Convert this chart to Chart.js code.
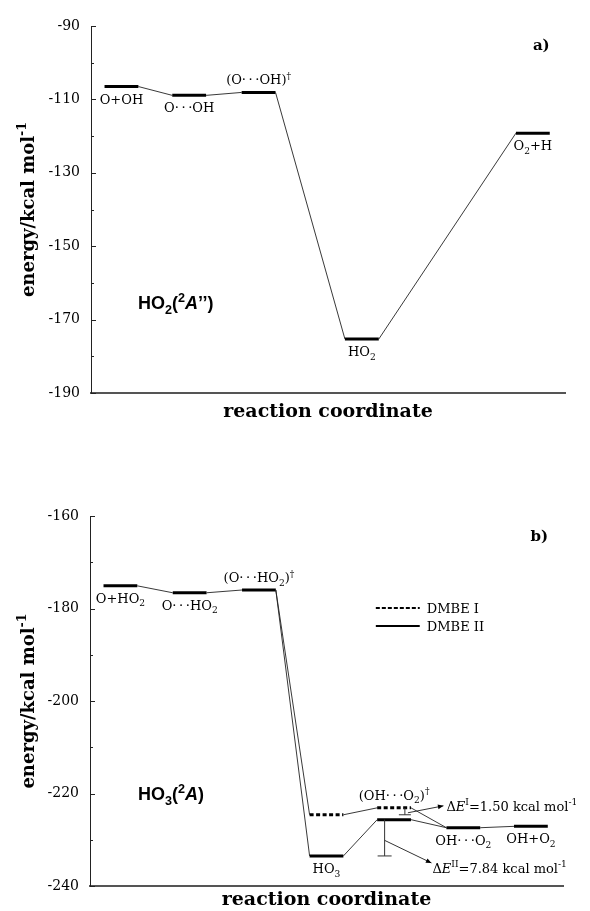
<!DOCTYPE html>
<html>
<head>
<meta charset="utf-8">
<script src="https://cdn.jsdelivr.net/npm/chart.js@4/dist/chart.umd.min.js"></script>
<style>
  html, body { margin: 0; padding: 0; background: #fff; }
  canvas { position: absolute; left: 0; }
  #ho2 { top: 0; }
  #ho3 { top: 455px; }
</style>
</head>
<body>
<canvas id="ho2" width="590" height="455"></canvas>
<canvas id="ho3" width="590" height="456"></canvas>
<script>
const SERIF = '"DejaVu Serif", serif';
const SANS = '"Liberation Sans", Arial, sans-serif';
const HALF = 0.5; // half width of an energy level along the reaction coordinate
const DOTS = '\u00B7\u2009\u00B7\u2009\u00B7';

// a) HO2 surface
const ho2States = ['O+OH', 'O' + DOTS + 'OH', '(O' + DOTS + 'OH)^{\u2020}', 'HO_{2}', 'O_{2}+H'];
const ho2Coord = [0.9, 2.9, 4.95, 8.0, 13.05];
const ho2Energy = [-106.5, -108.9, -108.1, -175.3, -119.2];
const ho2Side = ['below', 'below', 'above', 'below', 'below'];
const ho2Ticks = [-90, -110, -130, -150, -170, -190];

// b) HO3 surface, DMBE II levels (the barrier comes from the minimum plus deltaE2)
const ho3States = ['O+HO_{2}', 'O' + DOTS + 'HO_{2}', '(O' + DOTS + 'HO_{2})^{\u2020}', 'HO_{3}',
  '(OH' + DOTS + 'O_{2})^{\u2020}', 'OH' + DOTS + 'O_{2}', 'OH+O_{2}'];
const ho3Coord = [0.9, 2.95, 5.0, 7.0, 9.0, 11.05, 13.05];
const ho3Energy = [-175.1, -176.6, -176.0, -233.5, null, -227.4, -227.1];
const ho3Side = ['below', 'below', 'above', 'below', 'above', 'below', 'below'];
const ho3Ticks = [-160, -180, -200, -220, -240];
const dmbe1Min = -224.6; // HO3 minimum on DMBE I
const deltaE1 = 1.50;    // kcal/mol, DMBE I barrier
const deltaE2 = 7.84;    // kcal/mol, DMBE II barrier

const dmbe2Energy = ho3Energy.map((e, i) => (i === 4 ? ho3Energy[3] + deltaE2 : e));
const dmbe1TS = dmbe1Min + deltaE1;

// split "_{..}" subscripts, "^{..}" superscripts and "*{..}" italics
function richParts(str) {
  const parts = [];
  const re = /([_^*])\{([^}]*)\}/g;
  let last = 0, m;
  while ((m = re.exec(str))) {
    if (m.index > last) parts.push({ t: str.slice(last, m.index), k: '' });
    parts.push({ t: m[2], k: m[1] });
    last = re.lastIndex;
  }
  if (last < str.length) parts.push({ t: str.slice(last), k: '' });
  return parts;
}

function drawRich(ctx, str, x, y, opt) {
  const parts = richParts(str);
  const fontFor = p => {
    const small = p.k === '_' || p.k === '^';
    const size = small ? opt.size * 0.7 : opt.size;
    return (p.k === '*' ? 'italic ' : '') + (opt.weight || 'normal') + ' ' + size + 'px ' + opt.family;
  };
  let w = 0;
  parts.forEach(p => { ctx.font = fontFor(p); p.w = ctx.measureText(p.t).width; w += p.w; });
  let cx = opt.align === 'left' ? x : x - w / 2;
  ctx.textAlign = 'left';
  ctx.textBaseline = 'alphabetic';
  parts.forEach(p => {
    ctx.font = fontFor(p);
    const dy = p.k === '_' ? opt.size * 0.28 : p.k === '^' ? -opt.size * 0.42 : 0;
    ctx.fillText(p.t, cx, y + dy);
    cx += p.w;
  });
  return w;
}

function levelPoints(coord, energy) {
  const pts = [];
  coord.forEach((c, i) => {
    pts.push({ x: c - HALF, y: energy[i] }, { x: c + HALF, y: energy[i] });
  });
  return pts;
}

function arrow(ctx, x1, y1, x2, y2) {
  const ang = Math.atan2(y2 - y1, x2 - x1);
  ctx.beginPath();
  ctx.moveTo(x1, y1);
  ctx.lineTo(x2, y2);
  ctx.stroke();
  ctx.beginPath();
  ctx.moveTo(x2, y2);
  ctx.lineTo(x2 - 6 * Math.cos(ang - 0.4), y2 - 6 * Math.sin(ang - 0.4));
  ctx.lineTo(x2 - 6 * Math.cos(ang + 0.4), y2 - 6 * Math.sin(ang + 0.4));
  ctx.closePath();
  ctx.fill();
}

// labels, inward ticks, axis title and tags for one panel
function makeOverlay(spec) {
  return {
    id: 'overlay',
    afterDraw(chart) {
      const { ctx, chartArea: a, scales: { x, y } } = chart;
      ctx.save();
      ctx.strokeStyle = '#222';
      ctx.lineWidth = 1;
      for (let v = y.min; v <= y.max; v += 10) {
        const py = Math.round(y.getPixelForValue(v)) + 0.5;
        const len = spec.ticks.includes(v) ? 5 : 3;
        ctx.beginPath();
        ctx.moveTo(a.left, py);
        ctx.lineTo(a.left + len, py);
        ctx.stroke();
      }
      ctx.fillStyle = '#000';
      spec.states.forEach((s, i) => {
        const px = x.getPixelForValue(spec.coord[i]);
        const py = y.getPixelForValue(spec.labelAt[i]) + (spec.side[i] === 'above' ? -8 : 17);
        drawRich(ctx, s, px, py, { size: 13, family: SERIF });
      });
      drawRich(ctx, spec.molecule, x.getPixelForValue(spec.moleculeAt[0]), y.getPixelForValue(spec.moleculeAt[1]),
        { size: 18, family: SANS, weight: 'bold', align: 'left' });
      drawRich(ctx, spec.tag, x.getPixelForValue(spec.tagAt[0]), y.getPixelForValue(spec.tagAt[1]),
        { size: 15, family: SERIF, weight: 'bold' });
      ctx.translate(28, (a.top + a.bottom) / 2);
      ctx.rotate(-Math.PI / 2);
      drawRich(ctx, 'energy/kcal mol^{-1}', 0, 6, { size: 18, family: SERIF, weight: 'bold' });
      ctx.restore();
    }
  };
}

// legend and the two barrier markers of the HO3 panel
const ho3Notes = {
  id: 'ho3Notes',
  afterDraw(chart) {
    const { ctx, scales: { x, y } } = chart;
    ctx.save();
    ctx.strokeStyle = '#000';
    ctx.fillStyle = '#000';

    // legend
    const lx1 = x.getPixelForValue(8.46), lx2 = x.getPixelForValue(9.76);
    [[-179.9, [4, 2], 'DMBE I'], [-183.8, [], 'DMBE II']].forEach(([v, dash, txt]) => {
      const py = y.getPixelForValue(v);
      ctx.lineWidth = 2;
      ctx.setLineDash(dash);
      ctx.beginPath();
      ctx.moveTo(lx1, py);
      ctx.lineTo(lx2, py);
      ctx.stroke();
      ctx.setLineDash([]);
      drawRich(ctx, txt, x.getPixelForValue(9.97), py + 5, { size: 13, family: SERIF, align: 'left' });
    });

    ctx.lineWidth = 1;
    ctx.strokeStyle = '#333';
    // DMBE I barrier marker
    const xI = x.getPixelForValue(ho3Coord[4] + 0.32);
    const topI = y.getPixelForValue(dmbe1TS), botI = y.getPixelForValue(dmbe1Min);
    ctx.beginPath();
    ctx.moveTo(xI, topI); ctx.lineTo(xI, botI);
    ctx.moveTo(xI - 6, botI); ctx.lineTo(xI + 6, botI);
    ctx.stroke();
    const tx = x.getPixelForValue(ho3Coord[5] - HALF);
    arrow(ctx, xI + 3, botI - 2, tx - 3, topI - 2);
    drawRich(ctx, '\u0394*{E}^{I}=' + deltaE1.toFixed(2) + ' kcal mol^{-1}', tx, topI + 3,
      { size: 13, family: SERIF, align: 'left' });

    // DMBE II barrier marker
    const xII = x.getPixelForValue(ho3Coord[4] - 0.28);
    const topII = y.getPixelForValue(dmbe2Energy[4]), botII = y.getPixelForValue(dmbe2Energy[3]);
    ctx.beginPath();
    ctx.moveTo(xII, topII); ctx.lineTo(xII, botII);
    ctx.moveTo(xII - 7, botII); ctx.lineTo(xII + 7, botII);
    ctx.stroke();
    const midII = topII + (botII - topII) * 0.57;
    const ex = x.getPixelForValue(ho3Coord[5] - HALF) - 15, ey = botII + 7;
    arrow(ctx, xII, midII, ex, ey);
    drawRich(ctx, '\u0394*{E}^{II}=' + deltaE2.toFixed(2) + ' kcal mol^{-1}', ex + 1, ey + 10,
      { size: 13, family: SERIF, align: 'left' });
    ctx.restore();
  }
};

function axes(yMin, yMax, yTicks, leftWidth, bottomHeight, titlePad) {
  return {
    x: {
      type: 'linear', min: 0, max: 14,
      grid: { display: true, drawOnChartArea: false, drawTicks: false },
      border: { color: '#555', width: 2 },
      ticks: { display: false },
      title: {
        display: true, text: 'reaction coordinate', color: '#000',
        font: { family: SERIF, size: 19, weight: 'bold' },
        padding: { top: 0, bottom: titlePad }
      },
      afterFit: s => { s.height = bottomHeight; }
    },
    y: {
      type: 'linear', min: yMin, max: yMax,
      grid: { display: true, drawOnChartArea: false, drawTicks: false },
      border: { color: '#222', width: 1 },
      ticks: { padding: 11, color: '#000', font: { family: SERIF, size: 14 } },
      afterBuildTicks: s => { s.ticks = yTicks.map(v => ({ value: v })); },
      afterFit: s => { s.width = leftWidth; }
    }
  };
}

// level segments (even) are thick, connectors (odd) are thin
const pathSegment = {
  borderWidth: c => (c.p0DataIndex % 2 === 0 ? 3 : 0.9),
  borderColor: c => (c.p0DataIndex % 2 === 0 ? '#000' : '#222')
};

new Chart(document.getElementById('ho2'), {
  type: 'line',
  data: {
    datasets: [{
      data: levelPoints(ho2Coord, ho2Energy),
      borderColor: '#000', pointRadius: 0, tension: 0, fill: false,
      segment: pathSegment
    }]
  },
  options: {
    responsive: false, animation: false,
    layout: { padding: { top: 26, right: 25, left: 0, bottom: 0 } },
    plugins: { legend: { display: false }, tooltip: { enabled: false } },
    scales: axes(-190, -90, ho2Ticks, 91, 62, 32)
  },
  plugins: [makeOverlay({
    states: ho2States, coord: ho2Coord, labelAt: ho2Energy, side: ho2Side, ticks: ho2Ticks,
    molecule: 'HO_{2}(^{2}*{A}\u2019\u2019)', moleculeAt: [1.39, -167.2],
    tag: 'a)', tagAt: [13.3, -96.5]
  })]
});

// DMBE I differs from DMBE II only between the first barrier and OH...O2
const dmbe1Points = [
  { x: ho3Coord[2] + HALF, y: dmbe2Energy[2] },
  { x: ho3Coord[3] - HALF, y: dmbe1Min },
  { x: ho3Coord[3] + HALF, y: dmbe1Min },
  { x: ho3Coord[4] - HALF, y: dmbe1TS },
  { x: ho3Coord[4] + HALF, y: dmbe1TS },
  { x: ho3Coord[5] - HALF, y: dmbe2Energy[5] }
];
const ho3LabelAt = dmbe2Energy.map((e, i) => (i === 4 ? dmbe1TS : e));

new Chart(document.getElementById('ho3'), {
  type: 'line',
  data: {
    datasets: [{
      label: 'DMBE II',
      data: levelPoints(ho3Coord, dmbe2Energy),
      borderColor: '#000', pointRadius: 0, tension: 0, fill: false,
      segment: pathSegment
    }, {
      label: 'DMBE I',
      data: dmbe1Points,
      borderColor: '#000', pointRadius: 0, tension: 0, fill: false,
      segment: {
        borderWidth: c => (c.p0DataIndex % 2 === 1 ? 3 : 0.9),
        borderDash: c => (c.p0DataIndex % 2 === 1 ? [4, 2.5] : []),
        borderColor: c => (c.p0DataIndex % 2 === 1 ? '#000' : '#222')
      }
    }]
  },
  options: {
    responsive: false, animation: false,
    layout: { padding: { top: 61, right: 27, left: 0, bottom: 0 } },
    plugins: { legend: { display: false }, tooltip: { enabled: false } },
    scales: axes(-240, -160, ho3Ticks, 90, 25, 0)
  },
  plugins: [makeOverlay({
    states: ho3States, coord: ho3Coord, labelAt: ho3LabelAt, side: ho3Side, ticks: ho3Ticks,
    molecule: 'HO_{3}(^{2}*{A})', moleculeAt: [1.42, -221.5],
    tag: 'b)', tagAt: [13.3, -165.4]
  }), ho3Notes]
});
</script>
</body>
</html>
